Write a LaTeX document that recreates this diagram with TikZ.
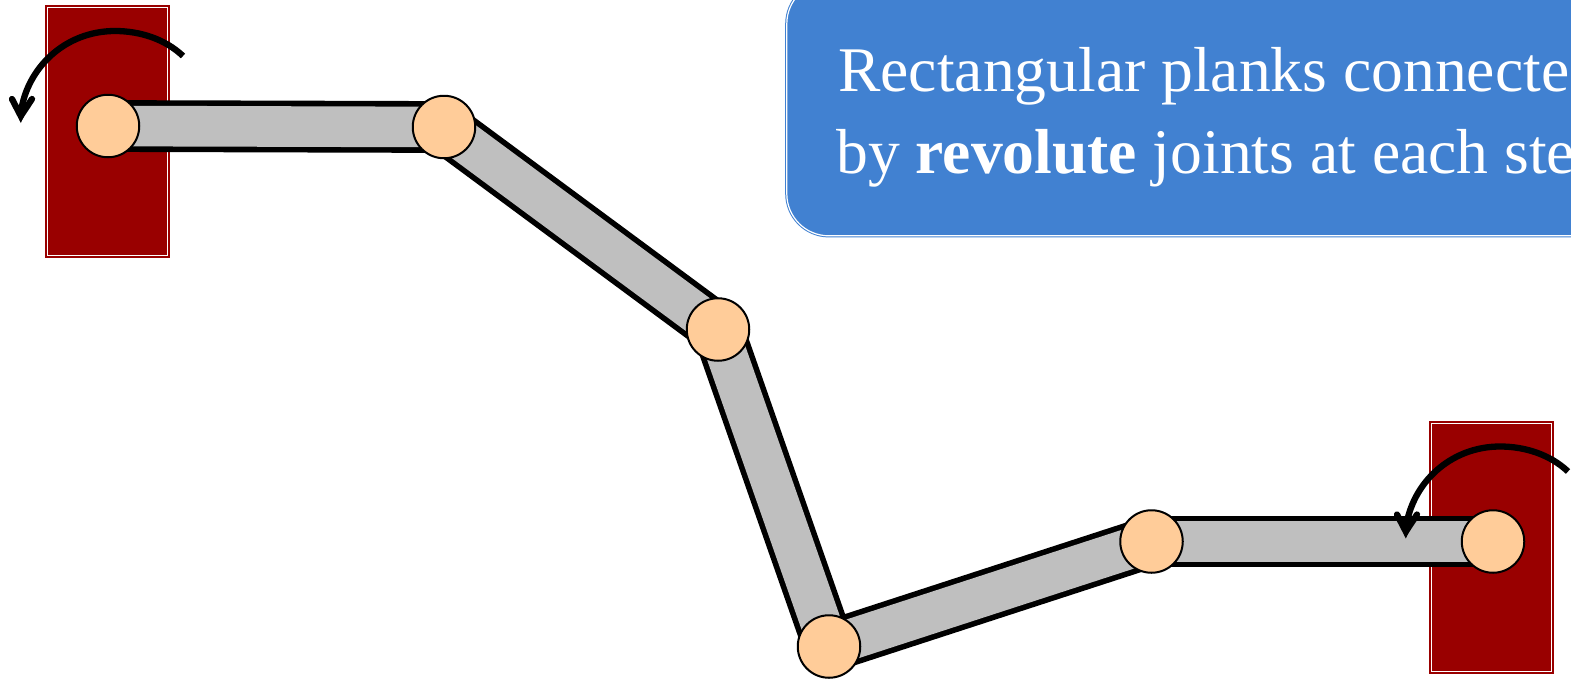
\documentclass[tikz,border=0pt]{standalone}
\usepackage{fontspec}
\setmainfont{Liberation Serif}
\usetikzlibrary{backgrounds}
\definecolor{planet}{HTML}{FFCC99}
\definecolor{wall}{HTML}{990000}
\definecolor{plankgray}{HTML}{BFBFBF}
\definecolor{boxblue}{HTML}{4181D1}
\tikzset{
  joint/.style={circle,draw=black,fill=planet,line width=2pt,minimum size=62.5pt,inner sep=0pt},
  wallbox/.style={rectangle,draw=wall,fill=wall,line width=1.3pt,double=white,double distance=1.7pt,minimum width=120.2pt,minimum height=248pt,inner sep=0pt},
  plank/.style={draw=black,line width=5.6pt,double=plankgray,double distance=40.6pt},
  rotarrow/.style={draw=black,line width=6.3pt,line cap=butt},
  rotbarb/.style={draw=black,line width=6.3pt,line cap=round},
  rotpoint/.style={fill=black,draw=none},
  callout/.style={rectangle,rounded corners=42pt,draw=boxblue,fill=boxblue,line width=1pt,double=white,double distance=1.2pt,minimum width=900pt,minimum height=254pt,inner sep=0pt,anchor=south west},
  callouttext/.style={text=white,align=left,inner sep=0pt,anchor=base west,font=\fontsize{63.6}{82}\selectfont}
}
\begin{document}
\begin{tikzpicture}[x=1pt,y=-1pt]
\useasboundingbox (0,0) rectangle (1571,681);
\clip (0,0) rectangle (1571,681);
% joints
\node[joint] (j1) at (108,126) {};
\node[joint] (j2) at (444,127) {};
\node[joint] (j3) at (718,329.5) {};
\node[joint] (j4) at (829,646.5) {};
\node[joint] (j5) at (1151.5,541.5) {};
\node[joint] (j6) at (1493,541.5) {};
\begin{pgfonlayer}{background}
  \node[wallbox] (w1) at (107.5,131.4) {};
  \node[wallbox] (w2) at (1491.5,547.4) {};
  \draw[plank] (j1.center) -- (j2.center);
  \draw[plank] (j2.center) -- (j3.center);
  \draw[plank] (j3.center) -- (j4.center);
  \draw[plank] (j4.center) -- (j5.center);
  \draw[plank] (j5.center) -- (j6.center);
\end{pgfonlayer}
% rotation arrows
\foreach \name/\dx/\dy in {a/0/0,b/1385/415.5}{
\begin{scope}[shift={(\dx,\dy)}]
  \coordinate (\name s) at (183,56);
  \coordinate (\name m) at (115,31);
  \coordinate (\name e) at (21,112);
  \coordinate (\name t) at (20.8,123);
  \coordinate (\name k) at (20.8,116);
  \coordinate (\name l) at (12,99);
  \coordinate (\name r) at (32,99);
  \draw[rotarrow] (\name s) .. controls (165,39) and (140,31) .. (\name m) .. controls (65,31) and (27,68) .. (\name e);
  \fill[rotpoint] (\name t) -- (\name l) -- (\name e) -- (\name r) -- cycle;
  \draw[rotbarb] (\name l) -- (\name k) -- (\name r);
\end{scope}
}
% callout
\node[callout] (box) at (786.3,236.3) {};
\node[callouttext] (txt) at (836,173.5) {\hspace*{2pt}Rectangular planks connecte\\by \textbf{revolute} joints at each ste};
\end{tikzpicture}
\end{document}
